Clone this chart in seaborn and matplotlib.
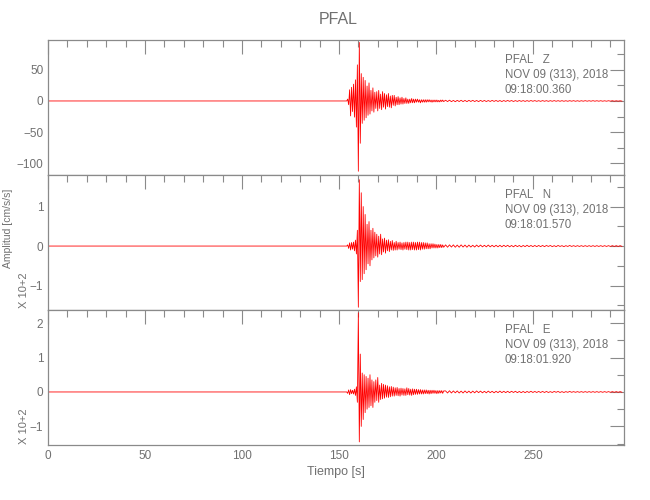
import numpy as np
import matplotlib
matplotlib.use("Agg")
import matplotlib.pyplot as plt
import seaborn as sns
from matplotlib.ticker import MultipleLocator

# station / component labels
station = "PFAL"
components = ["Z", "N", "E"]
date_text = "NOV 09 (313), 2018"
start_times = ["09:18:00.360", "09:18:01.570", "09:18:01.920"]

# sample times [s]: quiet part, dense part around the event, coda tail
t_pre = [0.0, 153.5]
t_dense = np.arange(154.0, 204.5, 0.5)   # 101 samples
t_tail = np.arange(205.0, 297.0, 1.0)    # 92 samples

# Z  [cm/s/s]
z_pre = [0, 0]
z_dense = [
    0, 3, -6, 18, -24, 22, -17, 27, -26, 34,
    -42, 58, -113, 94, -68, 44, -36, 38, -31, 33,
    -27, 24, -23, 29, -21, 17, -16, 21, -18, 14,
    -12, 15, -16, 17, -12, 11, -14, 15, -10, 12,
    -13, 10, -9, 12, -10, 8, -11, 9, -7, 9,
    -8, 6, -6, 7, -6, 5, -5, 6, -5, 4,
    -4, 5, -4, 3, -4, 3, -3, 4, -3, 3,
    -3, 3, -2, 3, -2, 2, -3, 2, -2, 2,
    -2, 2, -2, 2, -1.5, 2, -1.5, 1.5, -2, 1.5,
    -1.5, 1.5, -1.5, 1.5, -1.5, 1, -1.5, 1.5, -1, 1.5,
    -1,
]
z_tail = [
    1.2, -1.0, 1.3, -1.1, 0.9, -1.2, 1.0, -0.9, 1.1, -1.0,
    0.9, -1.1, 1.0, -0.8, 1.0, -0.9, 0.8, -1.0, 0.9, -0.8,
    0.8, -0.9, 0.7, -0.8, 0.9, -0.7, 0.8, -0.8, 0.7, -0.9,
    0.7, -0.7, 0.8, -0.6, 0.7, -0.8, 0.6, -0.7, 0.7, -0.6,
    0.6, -0.7, 0.6, -0.6, 0.7, -0.5, 0.6, -0.6, 0.5, -0.6,
    0.6, -0.5, 0.5, -0.6, 0.5, -0.5, 0.6, -0.5, 0.5, -0.5,
    0.5, -0.5, 0.4, -0.5, 0.5, -0.4, 0.5, -0.5, 0.4, -0.5,
    0.4, -0.4, 0.5, -0.4, 0.4, -0.4, 0.5, -0.4, 0.4, -0.4,
    0.4, -0.4, 0.3, -0.4, 0.4, -0.3, 0.4, -0.4, 0.3, -0.3,
    0.3, -0.3,
]

# N  [x 10+2 cm/s/s]
n_pre = [0, 0]
n_dense = [
    0, 0.03, -0.06, 0.08, -0.1, 0.09, -0.08, 0.1, -0.12, 0.15,
    -0.2, 0.4, -1.55, 1.68, -0.9, 1.35, -0.85, 1.0, -0.7, 0.8,
    -0.6, 0.55, -0.45, 0.62, -0.5, 0.4, -0.35, 0.45, -0.3, 0.35,
    -0.25, 0.3, -0.28, 0.25, -0.2, 0.3, -0.22, 0.18, -0.15, 0.2,
    -0.18, 0.15, -0.12, 0.16, -0.14, 0.12, -0.1, 0.14, -0.11, 0.09,
    -0.1, 0.12, -0.1, 0.09, -0.08, 0.1, -0.09, 0.08, -0.1, 0.09,
    -0.08, 0.1, -0.09, 0.1, -0.1, 0.09, -0.1, 0.1, -0.09, 0.1,
    -0.1, 0.09, -0.1, 0.1, -0.09, 0.1, -0.1, 0.09, -0.08, 0.09,
    -0.08, 0.08, -0.07, 0.08, -0.07, 0.06, -0.07, 0.06, -0.05, 0.06,
    -0.05, 0.05, -0.05, 0.04, -0.05, 0.04, -0.04, 0.04, -0.04, 0.03,
    -0.03,
]
n_tail = [
    0.03, -0.03, 0.03, -0.025, 0.03, -0.03, 0.025, -0.03, 0.03, -0.025,
    0.025, -0.03, 0.025, -0.025, 0.02, -0.025, 0.025, -0.02, 0.025, -0.02,
    0.02, -0.02, 0.025, -0.02, 0.02, -0.02, 0.02, -0.02, 0.02, -0.02,
    0.02, -0.015, 0.02, -0.02, 0.015, -0.02, 0.02, -0.015, 0.015, -0.02,
    0.015, -0.015, 0.02, -0.015, 0.015, -0.015, 0.015, -0.015, 0.015, -0.015,
    0.015, -0.015, 0.015, -0.01, 0.015, -0.015, 0.01, -0.015, 0.015, -0.01,
    0.01, -0.015, 0.01, -0.01, 0.015, -0.01, 0.01, -0.01, 0.01, -0.01,
    0.01, -0.01, 0.01, -0.01, 0.01, -0.01, 0.01, -0.01, 0.01, -0.01,
    0.01, -0.01, 0.01, -0.01, 0.01, -0.01, 0.01, -0.01, 0.01, -0.01,
    0.01, -0.01,
]

# E  [x 10+2 cm/s/s]
e_pre = [0, 0]
e_dense = [
    0, -0.04, 0.06, -0.08, 0.07, -0.05, 0.05, -0.06, 0.08, -0.1,
    0.15, -0.3, 2.3, -1.45, 1.1, -1.0, 0.55, -0.8, 0.5, -0.6,
    0.45, -0.5, 0.4, -0.45, 0.5, -0.4, 0.35, -0.45, 0.3, -0.3,
    0.35, -0.25, 0.42, -0.3, 0.2, -0.22, 0.25, -0.2, 0.22, -0.18,
    0.2, -0.15, 0.18, -0.16, 0.15, -0.14, 0.16, -0.12, 0.14, -0.12,
    0.12, -0.1, 0.13, -0.11, 0.1, -0.12, 0.11, -0.09, 0.1, -0.1,
    0.09, -0.1, 0.12, -0.08, 0.1, -0.09, 0.08, -0.1, 0.09, -0.08,
    0.08, -0.07, 0.08, -0.07, 0.07, -0.06, 0.07, -0.06, 0.06, -0.06,
    0.06, -0.05, 0.06, -0.05, 0.05, -0.06, 0.05, -0.05, 0.05, -0.04,
    0.05, -0.04, 0.04, -0.05, 0.04, -0.04, 0.04, -0.03, 0.04, -0.04,
    0.03,
]
e_tail = [
    0.03, -0.03, 0.035, -0.03, 0.03, -0.025, 0.03, -0.03, 0.025, -0.03,
    0.03, -0.025, 0.025, -0.03, 0.025, -0.025, 0.03, -0.02, 0.025, -0.025,
    0.02, -0.025, 0.025, -0.02, 0.02, -0.025, 0.02, -0.02, 0.025, -0.02,
    0.02, -0.02, 0.02, -0.02, 0.02, -0.015, 0.02, -0.02, 0.015, -0.02,
    0.015, -0.02, 0.015, -0.015, 0.02, -0.015, 0.015, -0.015, 0.015, -0.015,
    0.015, -0.015, 0.015, -0.015, 0.01, -0.015, 0.015, -0.01, 0.015, -0.015,
    0.01, -0.015, 0.01, -0.01, 0.015, -0.01, 0.01, -0.01, 0.01, -0.01,
    0.01, -0.01, 0.01, -0.01, 0.01, -0.01, 0.01, -0.01, 0.01, -0.01,
    0.01, -0.01, 0.01, -0.01, 0.01, -0.01, 0.01, -0.01, 0.01, -0.01,
    0.01, -0.01,
]

t = np.concatenate([t_pre, t_dense, t_tail])
traces = [
    np.concatenate([z_pre, z_dense, z_tail]),
    np.concatenate([n_pre, n_dense, n_tail]),
    np.concatenate([e_pre, e_dense, e_tail]),
]

ylims = [(-119, 98), (-1.62, 1.8), (-1.54, 2.38)]
major_steps = [50, 1, 1]
minor_steps = [25, 0.5, 0.5]

sns.set_style("white")
plt.rcParams["font.family"] = ["Liberation Sans", "DejaVu Sans"]
gray = "#8a8a8a"
txt = "#707070"

fig, axes = plt.subplots(3, 1, figsize=(6.5, 5), dpi=100, sharex=True)
fig.subplots_adjust(left=0.074, right=0.96, top=0.92, bottom=0.11, hspace=0)

for i, ax in enumerate(axes):
    sns.lineplot(x=t, y=traces[i], ax=ax, color="#ff0000", linewidth=0.6,
                 estimator=None, sort=False, solid_joinstyle="round")
    ax.set_xlim(0, 297)
    ax.set_ylim(*ylims[i])
    ax.xaxis.set_major_locator(MultipleLocator(50))
    ax.xaxis.set_minor_locator(MultipleLocator(10))
    ax.yaxis.set_major_locator(MultipleLocator(major_steps[i]))
    ax.yaxis.set_minor_locator(MultipleLocator(minor_steps[i]))
    ax.tick_params(which="both", direction="in", top=True, right=True,
                   color=gray, labelcolor=txt, labelsize=8.5, width=0.8)
    ax.tick_params(which="major", length=10)
    ax.tick_params(which="minor", length=5)
    for sp in ax.spines.values():
        sp.set_color(gray)
        sp.set_linewidth(0.9)
    ax.set_ylabel("")
    lines = [f"{station}   {components[i]}", date_text, start_times[i]]
    for j, s in enumerate(lines):
        ax.text(0.793, 0.85 - j * 0.11, s, transform=ax.transAxes,
                fontsize=8.3, color=txt, va="center", ha="left")

axes[-1].set_xlabel("Tiempo [s]", fontsize=9, color=txt, labelpad=3)

fig.suptitle(station, x=0.52, y=0.975, va="top", fontsize=11.5, color=txt)
fig.text(0.013, 0.544, "Amplitud [cm/s/s]", rotation=90, ha="center",
         va="center", fontsize=7.5, color=txt)
fig.text(0.037, 0.42, "X 10+2", rotation=90, ha="center", va="center",
         fontsize=8, color=txt)
fig.text(0.037, 0.148, "X 10+2", rotation=90, ha="center", va="center",
         fontsize=8, color=txt)

fig.savefig("out.png", dpi=100)
